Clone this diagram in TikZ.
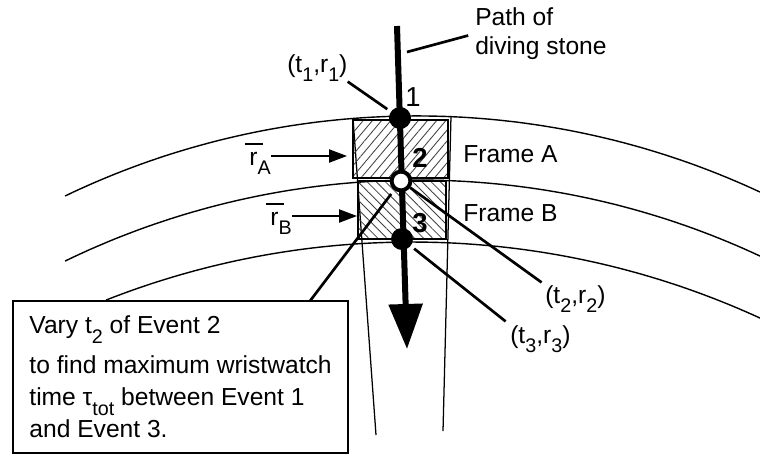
\documentclass[tikz,border=0pt]{standalone}
\usepackage{fontspec}
\setmainfont{Liberation Sans}
\usetikzlibrary{arrows.meta,positioning,calc,patterns.meta}

\newcommand{\lowsub}[1]{\raisebox{-0.38em}{\fontsize{14}{14}\selectfont #1}}
\newcommand{\rbar}{\leavevmode\rlap{\raisebox{0.8em}{\rule{0.72em}{0.08em}}}\hspace{0.17em}r}

\tikzset{
  orbit/.style={line width=1pt},
  radial/.style={line width=0.9pt},
  leader/.style={line width=1.9pt},
  ptr/.style={line width=1.1pt,-{Triangle[length=0.45cm,width=0.33cm]}},
  stone/.style={line width=0.15cm,-{Triangle[length=1.125cm,width=0.825cm]}},
  event/.style={circle,fill=black,inner sep=0pt,minimum size=0.55cm},
  openevent/.style={circle,draw,fill=white,line width=2.8pt,inner sep=0pt,minimum size=0.47cm},
  txt/.style={inner sep=0pt,font=\fontsize{17.5}{21.2}\selectfont},
  num/.style={inner sep=0pt,font=\fontsize{19.5}{20}\selectfont},
  framebox/.style={draw,line width=1.2pt,inner sep=0pt,pattern color=black!75},
  notebox/.style={draw,fill=white,line width=1.4pt,anchor=north west,outer sep=0pt,
    inner xsep=2pt,inner ysep=0pt,minimum width=8.375cm,minimum height=3.8cm,
    align=left,font=\fontsize{17.5}{22.7}\selectfont}
}

\begin{document}
\begin{tikzpicture}[x=0.025cm,y=-0.025cm]
    \useasboundingbox (0,0) rectangle (760,455);
    \clip (0,0) rectangle (760,455);
    % shells
    \draw[orbit,domain=-115.65:-65,samples=80] plot ({416.7+812.4*cos(\x)},{928.3+812.4*sin(\x)});
    \draw[orbit,domain=-115.87:-64.9,samples=80] plot ({417.8+808.4*cos(\x)},{988.4+808.4*sin(\x)});
    \draw[orbit,domain=-111.48:-65.3,samples=80] plot ({411.9+835.2*cos(\x)},{1077.2+835.2*sin(\x)});
    \draw[radial] (353,118) -- (376,435);
    \draw[radial] (451,116) -- (443,431);
    % frames
    \node[framebox,minimum width=2.375cm,minimum height=1.45cm,
      pattern={Lines[angle=50,distance=5pt,line width=0.6pt]}] (frameA) at (400.5,149) {};
    \node[framebox,minimum width=2.2cm,minimum height=1.45cm,
      pattern={Lines[angle=-45,distance=4.6pt,line width=0.6pt]}] (frameB) at (402,210) {};
    % path of the stone
    \coordinate (top) at (397,26);
    \coordinate (tip) at (407,349);
    \draw[stone] (top) -- (tip);
    \node[event] (e1) at (400,118) {};
    \node[openevent] (e2) at (401,181) {};
    \node[event] (e3) at (402,239) {};
    \node[num] (n1) at (413,97) {1};
    \node[num,font=\fontsize{19.5}{20}\selectfont\bfseries] (n2) at (420,158) {2};
    \node[num,font=\fontsize{19.5}{20}\selectfont\bfseries] (n3) at (420,223) {3};
    % labels
    \node[txt,anchor=west] (fA) at (463,154) {Frame A};
    \node[txt,anchor=west] (fB) at (463,213) {Frame B};
    \node[txt,align=left,anchor=north west] (pathlbl) at (475,7) {Path of\\diving stone};
    \coordinate (pathpt) at (407,52);
    \draw[leader,shorten >=5pt] (pathpt) -- (pathlbl.west);
    \node[txt,anchor=base west] (l1) at (287,72) {(t\lowsub{1},r\lowsub{1})};
    \draw[leader,shorten >=3pt] (l1.south east) -- (e1);
    \node[txt,anchor=base west] (l2) at (545,303) {(t\lowsub{2},r\lowsub{2})};
    \draw[leader,shorten >=3pt] (e2) -- (l2.north west);
    \node[txt,anchor=base west] (l3) at (510,343) {(t\lowsub{3},r\lowsub{3})};
    \draw[leader,shorten <=3pt,shorten >=4pt] (e3) -- (l3.north west);
    \node[txt,anchor=base west] (rA) at (245,165) {\rbar\lowsub{A}};
    \coordinate (rAtip) at (347,156);
    \draw[ptr] (rA.east |- rAtip) -- (rAtip);
    \node[txt,anchor=base west] (rB) at (266,225) {\rbar\lowsub{B}};
    \coordinate (rBtip) at (357,216);
    \draw[ptr] (rB.east |- rBtip) -- (rBtip);
    % note
    \node[notebox] (note) at (13,301) {Vary t\lowsub{2} of Event 2\\[5.7pt]
      to find maximum wristwatch\\
      time τ\lowsub{tot} between Event 1\\
      and Event 3.};
    \draw[leader,shorten >=3.5pt] (note.north west) ++(297,0) -- (e2);
\end{tikzpicture}
\end{document}
